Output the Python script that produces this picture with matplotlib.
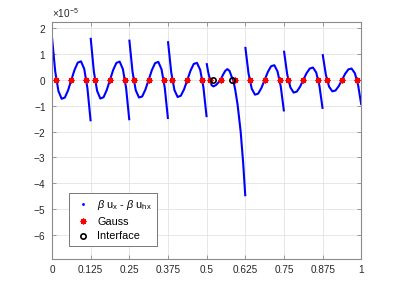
import numpy as np
import matplotlib
matplotlib.use("Agg")
import matplotlib.pyplot as plt
from matplotlib.ticker import ScalarFormatter, FixedLocator

plt.rcParams['font.family'] = ['Liberation Sans', 'DejaVu Sans']
plt.rcParams['mathtext.fontset'] = 'custom'
plt.rcParams['mathtext.rm'] = 'Liberation Sans'
plt.rcParams['mathtext.it'] = 'Liberation Sans:italic'
plt.rcParams['axes.unicode_minus'] = False

# ---- data (error values in units of 1e-5) ----
element_edges = [0.0, 0.125, 0.25, 0.375, 0.5, 0.625, 0.75, 0.875, 1.0]
SCALE = 1e-5

# regular elements: 13 equally spaced samples per element
err_e1 = [1.65, 0.33, -0.43, -0.73, -0.68, -0.40, 0.0, 0.39, 0.67, 0.72, 0.43, -0.32, -1.60]
err_e2 = [1.63, 0.32, -0.42, -0.72, -0.67, -0.39, 0.0, 0.39, 0.66, 0.71, 0.42, -0.31, -1.56]
err_e3 = [1.56, 0.31, -0.40, -0.68, -0.64, -0.37, 0.0, 0.38, 0.65, 0.70, 0.41, -0.30, -1.51]
err_e4 = [1.50, 0.30, -0.39, -0.66, -0.61, -0.36, 0.0, 0.36, 0.62, 0.66, 0.39, -0.29, -1.44]
err_e6 = [1.28, 0.25, -0.34, -0.57, -0.53, -0.31, 0.0, 0.31, 0.53, 0.57, 0.33, -0.25, -1.22]
err_e7 = [1.13, 0.22, -0.29, -0.49, -0.45, -0.26, 0.0, 0.26, 0.44, 0.48, 0.29, -0.22, -1.12]
err_e8 = [1.00, 0.20, -0.26, -0.44, -0.41, -0.24, 0.0, 0.24, 0.41, 0.44, 0.26, -0.19, -0.97]

# interface element (0.5 - 0.625)
x_e5 = [0.500, 0.505, 0.511, 0.516, 0.522, 0.530, 0.538, 0.545, 0.552, 0.560,
        0.567, 0.574, 0.581, 0.586, 0.592, 0.600, 0.610, 0.618, 0.625]
err_e5 = [0.65, 0.30, 0.0, -0.20, -0.25, -0.20, -0.10, 0.0, 0.18, 0.35,
          0.42, 0.35, 0.12, -0.02, -0.35, -0.95, -2.00, -3.20, -4.50]

# Gauss points (3 per element) and interface points
gauss_x = [0.0141, 0.0625, 0.1109, 0.1391, 0.1875, 0.2359, 0.2641, 0.3125, 0.3609,
           0.3891, 0.4375, 0.4859, 0.511, 0.545, 0.591,
           0.6391, 0.6875, 0.7359, 0.7641, 0.8125, 0.8609, 0.8891, 0.9375, 0.9859]
interface_x = [0.522, 0.583]

xtick_vals = [0, 0.125, 0.25, 0.375, 0.5, 0.625, 0.75, 0.875, 1]
xtick_labels = ['0', '0.125', '0.25', '0.375', '0.5', '0.625', '0.75', '0.875', '1']
ytick_vals = [2, 1, 0, -1, -2, -3, -4, -5, -6]

# ---- figure ----
fig = plt.figure(figsize=(3.99, 2.92), dpi=100)
ax = fig.add_axes([0.1303, 0.112, 0.7752, 0.8116])

regular = {0: err_e1, 1: err_e2, 2: err_e3, 3: err_e4, 5: err_e6, 6: err_e7, 7: err_e8}
for i in range(8):
    if i == 4:
        xs = np.array(x_e5)
        ys = np.array(err_e5)
    else:
        ys = np.array(regular[i])
        xs = np.linspace(element_edges[i], element_edges[i + 1], len(ys))
    ax.plot(xs, ys * SCALE, color=(0, 0, 1), lw=1.5, solid_capstyle='butt',
            solid_joinstyle='round', zorder=2)

# legend proxy for the error curve (blue dot marker like MATLAB)
ax.plot([], [], linestyle='none', marker='.', markersize=2, color=(0, 0, 1),
        label=r'$\beta$ u$_{\mathrm{x}}$ - $\beta$ u$_{\mathrm{hx}}$')
ax.plot(gauss_x, np.zeros(len(gauss_x)), linestyle='none', marker=(8, 2, 0),
        markersize=4.2, mew=0.9, color=(1, 0, 0), label='Gauss', zorder=3)
ax.plot(interface_x, np.zeros(len(interface_x)), linestyle='none', marker='o',
        markersize=3.8, mew=1.2, mfc='none', mec='black', label='Interface', zorder=4)

ax.set_xlim(0, 1)
ax.set_ylim(-6.94 * SCALE, 2.23 * SCALE)
ax.xaxis.set_major_locator(FixedLocator(xtick_vals))
ax.set_xticklabels(xtick_labels)
ax.yaxis.set_major_locator(FixedLocator([v * SCALE for v in ytick_vals]))
fmt = ScalarFormatter(useMathText=True)
fmt.set_powerlimits((-3, 3))
ax.yaxis.set_major_formatter(fmt)

spine_col = '#8a8a8a'
for s in ax.spines.values():
    s.set_color(spine_col)
    s.set_linewidth(0.8)
ax.tick_params(direction='in', length=3, width=0.6, colors=spine_col, labelcolor='#262626',
               labelsize=7.2, top=True, right=True, pad=4)
ax.grid(True, color='#e3e3e3', lw=0.6)
ax.set_axisbelow(True)
off = ax.yaxis.get_offset_text()
off.set_fontsize(7.2)
off.set_color('#262626')

leg = ax.legend(loc='lower left', bbox_to_anchor=(0.055, 0.055), borderaxespad=0,
                fontsize=7.8, handlelength=1.6, handletextpad=0.55, labelspacing=0.45,
                borderpad=0.45, fancybox=False, framealpha=1, edgecolor='#777777')
leg.get_frame().set_linewidth(0.7)

fig.savefig('out.png', dpi=100)
